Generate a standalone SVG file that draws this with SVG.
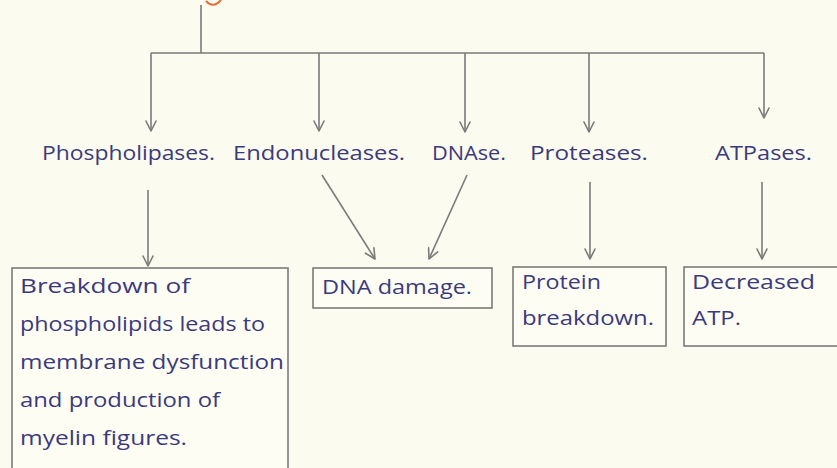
<svg xmlns="http://www.w3.org/2000/svg" width="837" height="468" viewBox="0 0 837 468">
<defs>
<style>
.ln{stroke:#7a7a7a;stroke-width:1.6;fill:none}
.bx{stroke:#7a7a7a;stroke-width:1.6;fill:#fefdf3}
.t{font-family:"Open Sans","Noto Sans",sans-serif;font-size:20px;fill:#3a3a7c}
.hd{stroke:#7a7a7a;stroke-width:1.6;fill:none;stroke-linecap:round;stroke-linejoin:round}
</style>
<marker id="ah" markerWidth="16" markerHeight="12" refX="14" refY="6" orient="auto" markerUnits="userSpaceOnUse">
<path class="hd" d="M4,1 L14,6 L4,11"/>
</marker>
</defs>
<rect width="837" height="468" fill="#fcfbef"/>
<path d="M206,1 Q213,9 221,0" stroke="#e0713a" stroke-width="2" fill="none"/>
<g id="connectors">
<path class="ln" d="M201,5 V53"/>
<path class="ln" d="M151,53 H764"/>
<path class="ln" d="M151,53 V131" marker-end="url(#ah)"/>
<path class="ln" d="M319,53 V131" marker-end="url(#ah)"/>
<path class="ln" d="M465,53 V132" marker-end="url(#ah)"/>
<path class="ln" d="M589,53 V132" marker-end="url(#ah)"/>
<path class="ln" d="M764,53 V118" marker-end="url(#ah)"/>
<path class="ln" d="M148,190 V266" marker-end="url(#ah)"/>
<path class="ln" d="M322,175 L375,259" marker-end="url(#ah)"/>
<path class="ln" d="M467,175 L429,259" marker-end="url(#ah)"/>
<path class="ln" d="M590,182 V259" marker-end="url(#ah)"/>
<path class="ln" d="M762,182 V259" marker-end="url(#ah)"/>
</g>
<g id="phospholipases"><text class="t" x="42" y="160" textLength="173" lengthAdjust="spacingAndGlyphs">Phospholipases.</text></g>
<g id="endonucleases"><text class="t" x="233" y="160" textLength="172" lengthAdjust="spacingAndGlyphs">Endonucleases.</text></g>
<g id="dnase"><text class="t" x="432" y="160" textLength="74" lengthAdjust="spacingAndGlyphs">DNAse.</text></g>
<g id="proteases"><text class="t" x="530" y="160" textLength="118" lengthAdjust="spacingAndGlyphs">Proteases.</text></g>
<g id="atpases"><text class="t" x="715" y="160" textLength="97" lengthAdjust="spacingAndGlyphs">ATPases.</text></g>
<g id="box-membrane">
<rect class="bx" x="12" y="268" width="276" height="210"/>
<text class="t" x="20" y="293" textLength="170" lengthAdjust="spacingAndGlyphs">Breakdown of</text>
<text class="t" x="20" y="331" textLength="245" lengthAdjust="spacingAndGlyphs">phospholipids leads to</text>
<text class="t" x="20" y="369" textLength="264" lengthAdjust="spacingAndGlyphs">membrane dysfunction</text>
<text class="t" x="20" y="407" textLength="200" lengthAdjust="spacingAndGlyphs">and production of</text>
<text class="t" x="20" y="445" textLength="167" lengthAdjust="spacingAndGlyphs">myelin figures.</text>
</g>
<g id="box-dna">
<rect class="bx" x="313" y="268" width="179" height="40"/>
<text class="t" x="322" y="294" textLength="150" lengthAdjust="spacingAndGlyphs">DNA damage.</text>
</g>
<g id="box-protein">
<rect class="bx" x="513" y="267" width="153" height="79"/>
<text class="t" x="522" y="289" textLength="79" lengthAdjust="spacingAndGlyphs">Protein</text>
<text class="t" x="522" y="325" textLength="132" lengthAdjust="spacingAndGlyphs">breakdown.</text>
</g>
<g id="box-atp">
<rect class="bx" x="684" y="267" width="170" height="79"/>
<text class="t" x="692" y="289" textLength="123" lengthAdjust="spacingAndGlyphs">Decreased</text>
<text class="t" x="692" y="325" textLength="49" lengthAdjust="spacingAndGlyphs">ATP.</text>
</g>
</svg>
